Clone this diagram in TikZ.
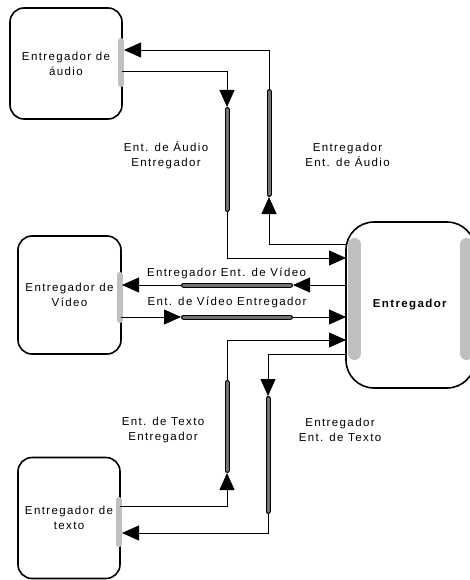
\documentclass[tikz,border=0pt]{standalone}
\usepackage{fontspec}
\setmainfont{Liberation Sans}[LetterSpace=12]
\usetikzlibrary{arrows.meta}

\begin{document}
\begin{tikzpicture}[x=1pt,y=-1pt]
\tikzstyle{box}=[draw, line width=1.6pt, align=center, inner sep=0pt,
  font=\fontsize{11.5}{15}\selectfont]
\tikzstyle{port}=[line width=6pt, line cap=round, draw=black!25]
\tikzstyle{pipe}=[line width=1pt, double=black!55, double distance=3pt,
  line cap=round, shorten >=2.5pt, shorten <=2.5pt]
\tikzstyle{flow}=[line width=0.8pt, -{Triangle[length=17pt,width=15pt]}]
\tikzstyle{lbl}=[align=center, font=\fontsize{11.5}{15}\selectfont]
\useasboundingbox (0,0) rectangle (469,580);

% Knoten
\node[box, rounded corners=14pt, minimum width=112pt, minimum height=111pt]
  (audio) at (66,63.5) {Entregador de\\áudio};
\node[box, rounded corners=14pt, minimum width=103pt, minimum height=118pt]
  (video) at (69.5,295) {Entregador de\\Vídeo};
\node[box, rounded corners=14pt, minimum width=102pt, minimum height=121pt]
  (texto) at (69,518) {Entregador de\\texto};
\node[box, rounded corners=28pt, minimum width=129pt, minimum height=166pt]
  (entreg) at (410.5,305) {\textbf{Entregador}};

\draw[port] (121,41) -- (121,84);
\draw[port] (119.5,275) -- (119.5,320);
\draw[port] (119,500) -- (119,544);
\draw[port, line width=13pt] (354.5,244.5) -- (354.5,353.5);
\draw[port, line width=13pt] (466.5,244.5) -- (466.5,353.5);

% Anschluesse
\coordinate (a-in) at (124,50);
\coordinate (a-out) at (122,71);
\coordinate (v-in) at (122,285);
\coordinate (v-out) at (121,317);
\coordinate (t-out) at (120,506);
\coordinate (t-in) at (122,533);
\coordinate (e-a-in) at (346,244);
\coordinate (e-a-out) at (346,258);
\coordinate (e-v-in) at (346,285);
\coordinate (e-v-out) at (346,317);
\coordinate (e-t-out) at (346,340);
\coordinate (e-t-in) at (346,354);

% Leitungen
\coordinate (ai1) at (269,89);
\coordinate (ai2) at (269,197);
\coordinate (ao1) at (227,107);
\coordinate (ao2) at (227,212);
\coordinate (vi1) at (181,285);
\coordinate (vi2) at (293,285);
\coordinate (vo1) at (181,317);
\coordinate (vo2) at (293,317);
\coordinate (to1) at (227,380);
\coordinate (to2) at (227,473);
\coordinate (ti1) at (268,396);
\coordinate (ti2) at (268,514);

\draw[pipe] (ai1) -- (ai2);
\draw[pipe] (ao1) -- (ao2);
\draw[pipe] (vi1) -- (vi2);
\draw[pipe] (vo1) -- (vo2);
\draw[pipe] (to1) -- (to2);
\draw[pipe] (ti1) -- (ti2);

\draw[flow] (e-a-in) -| (ai2);
\draw[flow] (ai1) |- (a-in);
\draw[flow] (a-out) -| (ao1);
\draw[flow] (ao2) |- (e-a-out);

\draw[flow] (e-v-in) -- (vi2);
\draw[flow] (vi1) -- (v-in);
\draw[flow] (v-out) -- (vo1);
\draw[flow] (vo2) -- (e-v-out);

\draw[flow] (t-out) -| (to2);
\draw[flow] (to1) |- (e-t-out);
\draw[flow] (e-t-in) -| (ti1);
\draw[flow] (ti2) |- (t-in);

% Beschriftungen
\node[lbl] (l-ai) at (166,155) {Ent. de Áudio\\Entregador};
\node[lbl] (l-ao) at (347.5,155) {Entregador\\Ent. de Áudio};
\node[lbl] (l-vi) at (226.5,273) {Entregador Ent. de Vídeo};
\node[lbl] (l-vo) at (227,302) {Ent. de Vídeo Entregador};
\node[lbl] (l-to) at (163,430) {Ent. de Texto\\Entregador};
\node[lbl] (l-ti) at (340,430) {Entregador\\Ent. de Texto};

\end{tikzpicture}
\end{document}
